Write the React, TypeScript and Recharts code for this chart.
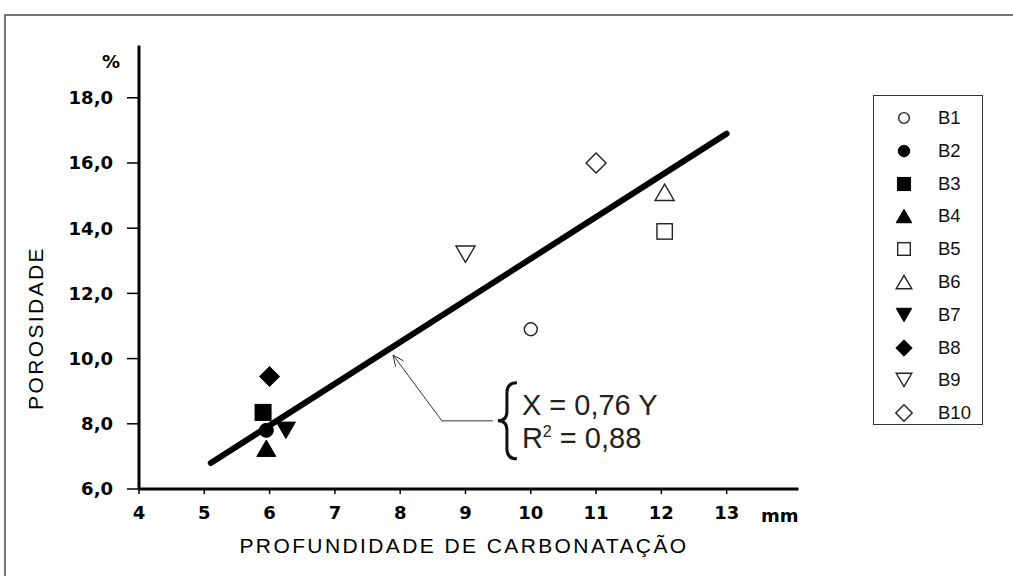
import { ScatterChart, Scatter, XAxis, YAxis, ReferenceLine, ReferenceDot, Label } from 'recharts'

// samples B1..B10: carbonation depth (mm) vs porosity (%)
const sampleNames = ['B1', 'B2', 'B3', 'B4', 'B5', 'B6', 'B7', 'B8', 'B9', 'B10']
const depthMm = [10.0, 5.95, 5.9, 5.95, 12.05, 12.05, 6.25, 6.0, 9.0, 11.0]
const porosity = [10.9, 7.8, 8.35, 7.25, 13.9, 15.1, 7.8, 9.45, 13.2, 16.0]
const markers = [
  'circleOpen', 'circle', 'square', 'triangle', 'squareOpen',
  'triangleOpen', 'triangleDown', 'diamond', 'triangleDownOpen', 'diamondOpen',
]

// fitted line end points
const trendX = [5.1, 13.0]
const trendY = [6.8, 16.9]

// arrow from the equation to the line: tip, elbow, end
const arrowX = [7.89, 8.64, 9.42]
const arrowY = [10.11, 8.09, 8.09]

const xTicks = [4, 5, 6, 7, 8, 9, 10, 11, 12, 13]
const yTicks = [6, 8, 10, 12, 14, 16, 18]

const equationLine = 'X = 0,76 Y'
const r2Value = '0,88'

const W = 1013
const H = 576
const tickFont = "'DejaVu Sans', sans-serif"
const textFont = "'Liberation Sans', Arial, sans-serif"

function Marker({ kind, cx, cy, s = 1 }: { kind: string; cx: number; cy: number; s?: number }) {
  const open = kind.endsWith('Open')
  const fill = open ? '#fff' : '#000'
  const stroke = open ? '#222' : '#000'
  const sw = open ? 1.4 : 1
  if (kind.startsWith('circle')) {
    const r = (open ? 6.5 : 7) * s
    return <circle cx={cx} cy={cy} r={r} fill={fill} stroke={stroke} strokeWidth={sw} />
  }
  if (kind.startsWith('square')) {
    const h = (open ? 7.7 : 8) * s
    return <rect x={cx - h} y={cy - h} width={2 * h} height={2 * h} fill={fill} stroke={stroke} strokeWidth={sw} />
  }
  if (kind.startsWith('triangleDown')) {
    const w = 9.5 * s
    const h = 8.2 * s
    return <polygon points={`${cx - w},${cy - h} ${cx + w},${cy - h} ${cx},${cy + h}`} fill={fill} stroke={stroke} strokeWidth={sw} />
  }
  if (kind.startsWith('triangle')) {
    const w = 9.5 * s
    const h = 8.2 * s
    return <polygon points={`${cx - w},${cy + h} ${cx + w},${cy + h} ${cx},${cy - h}`} fill={fill} stroke={stroke} strokeWidth={sw} />
  }
  const d = 10 * s
  return <polygon points={`${cx},${cy - d} ${cx + d},${cy} ${cx},${cy + d} ${cx - d},${cy}`} fill={fill} stroke={stroke} strokeWidth={sw} />
}

const fmt = (v: number) => v.toFixed(1).replace('.', ',')

// eslint-disable-next-line @typescript-eslint/no-explicit-any
function ArrowShape(props: any) {
  const { x1, y1, x2, y2 } = props
  const a = Math.atan2(y2 - y1, x2 - x1)
  const len = 12
  const spread = 0.42
  const b1x = x2 - len * Math.cos(a - spread)
  const b1y = y2 - len * Math.sin(a - spread)
  const b2x = x2 - len * Math.cos(a + spread)
  const b2y = y2 - len * Math.sin(a + spread)
  return (
    <g stroke="#333" strokeWidth={1} fill="none">
      <line x1={x1} y1={y1} x2={x2} y2={y2} />
      <polyline points={`${b1x},${b1y} ${x2},${y2} ${b2x},${b2y}`} />
    </g>
  )
}

// eslint-disable-next-line @typescript-eslint/no-explicit-any
function PlainLine(props: any) {
  const { x1, y1, x2, y2, stroke, strokeWidth } = props
  return <line x1={x1} y1={y1} x2={x2} y2={y2} stroke={stroke} strokeWidth={strokeWidth} strokeLinecap="round" />
}

// eslint-disable-next-line @typescript-eslint/no-explicit-any
function EquationShape({ cx, cy }: any) {
  const bx = cx + 24
  const brace = `M ${bx} ${cy - 38} Q ${cx + 14} ${cy - 38} ${cx + 14} ${cy - 28} L ${cx + 14} ${cy - 9} Q ${cx + 14} ${cy} ${cx + 5} ${cy} Q ${cx + 14} ${cy} ${cx + 14} ${cy + 9} L ${cx + 14} ${cy + 28} Q ${cx + 14} ${cy + 38} ${bx} ${cy + 38}`
  return (
    <g>
      <path d={brace} fill="none" stroke="#111" strokeWidth={3} />
      <text x={cx + 29} y={cy - 6} fontFamily={textFont} fontSize={29} fill="#222">{equationLine}</text>
      <text x={cx + 29} y={cy + 27} fontFamily={textFont} fontSize={29} fill="#222">
        R<tspan dy={-11} fontSize={16}>2</tspan><tspan dy={11}>{` = ${r2Value}`}</tspan>
      </text>
    </g>
  )
}

export default function App() {
  const series = sampleNames.map((name, i) => ({ name, kind: markers[i], data: [{ x: depthMm[i], y: porosity[i] }] }))

  return (
    <div style={{ position: 'absolute', left: 0, top: 0, width: W, height: H, background: '#fff', overflow: 'hidden' }}>
      <div style={{ position: 'absolute', left: 4, top: 14, width: W, height: H, borderTop: '2px solid #777', borderLeft: '2px solid #777' }} />
      <ScatterChart width={W} height={H} margin={{ top: 45.6, right: 214.5, bottom: 27, left: 39 }} style={{ position: 'absolute', left: 0, top: 0 }}>
        <XAxis
          type="number"
          dataKey="x"
          domain={[4, 14.1]}
          ticks={xTicks}
          height={60}
          axisLine={{ stroke: '#000', strokeWidth: 3 }}
          tickLine={{ stroke: '#000', strokeWidth: 1.5 }}
          tickSize={5}
          tickMargin={12}
          tick={{ fontFamily: tickFont, fontWeight: 'bold', fontSize: 18, fill: '#000' }}
          allowDataOverflow
        >
          <Label
            content={({ viewBox }: any) => (
              <g>
                <text x={viewBox.x + viewBox.width} y={viewBox.y + 33} textAnchor="end" fontFamily={tickFont} fontWeight="bold" fontSize={18} fill="#000">mm</text>
                <text x={464} y={553} textAnchor="middle" fontFamily={textFont} fontSize={21} letterSpacing={2.4} fill="#000">PROFUNDIDADE DE CARBONATAÇÃO</text>
              </g>
            )}
          />
        </XAxis>
        <YAxis
          type="number"
          dataKey="y"
          domain={[6, 19.6]}
          ticks={yTicks}
          width={100}
          axisLine={{ stroke: '#000', strokeWidth: 3 }}
          tickLine={{ stroke: '#000', strokeWidth: 1.5 }}
          tickSize={12}
          tickMargin={14}
          tickFormatter={fmt}
          tick={{ fontFamily: tickFont, fontWeight: 'bold', fontSize: 18, fill: '#000' }}
          allowDataOverflow
        >
          <Label
            content={({ viewBox }: any) => (
              <g>
                <text x={viewBox.x + viewBox.width - 28} y={viewBox.y + 22} textAnchor="middle" fontFamily={tickFont} fontWeight="bold" fontSize={18} fill="#000">%</text>
                <text x={0} y={0} transform={`translate(43, 328) rotate(-90)`} textAnchor="middle" fontFamily={textFont} fontSize={21} letterSpacing={2.4} fill="#000">POROSIDADE</text>
              </g>
            )}
          />
        </YAxis>
        <ReferenceLine
          segment={[{ x: trendX[0], y: trendY[0] }, { x: trendX[1], y: trendY[1] }]}
          stroke="#000"
          strokeWidth={6}
          shape={PlainLine}
          ifOverflow="visible"
        />
        <ReferenceLine
          segment={[{ x: arrowX[1], y: arrowY[1] }, { x: arrowX[0], y: arrowY[0] }]}
          shape={ArrowShape}
          ifOverflow="visible"
        />
        <ReferenceLine
          segment={[{ x: arrowX[1], y: arrowY[1] }, { x: arrowX[2], y: arrowY[2] }]}
          stroke="#333"
          strokeWidth={1}
          ifOverflow="visible"
        />
        <ReferenceDot x={arrowX[2]} y={arrowY[2]} r={0} shape={EquationShape} ifOverflow="visible" />
        {series.map(s => (
          <Scatter
            key={s.name}
            name={s.name}
            data={s.data}
            isAnimationActive={false}
            shape={(p: any) => <Marker kind={s.kind} cx={p.cx} cy={p.cy} />}
          />
        ))}
      </ScatterChart>
      {/* legend box */}
      <div style={{ position: 'absolute', left: 873, top: 95, width: 108, height: 328, border: '1px solid #333', background: '#fff' }}>
        {series.map((s, i) => (
          <div key={s.name} style={{ position: 'absolute', left: 0, top: 22 + i * 32.8 - 16, height: 32, display: 'flex', alignItems: 'center' }}>
            <svg width={60} height={32} style={{ display: 'block' }}>
              <Marker kind={s.kind} cx={30} cy={16} s={0.82} />
            </svg>
            <span style={{ fontFamily: textFont, fontSize: 18.5, color: '#111', marginLeft: 4 }}>{s.name}</span>
          </div>
        ))}
      </div>
    </div>
  )
}
